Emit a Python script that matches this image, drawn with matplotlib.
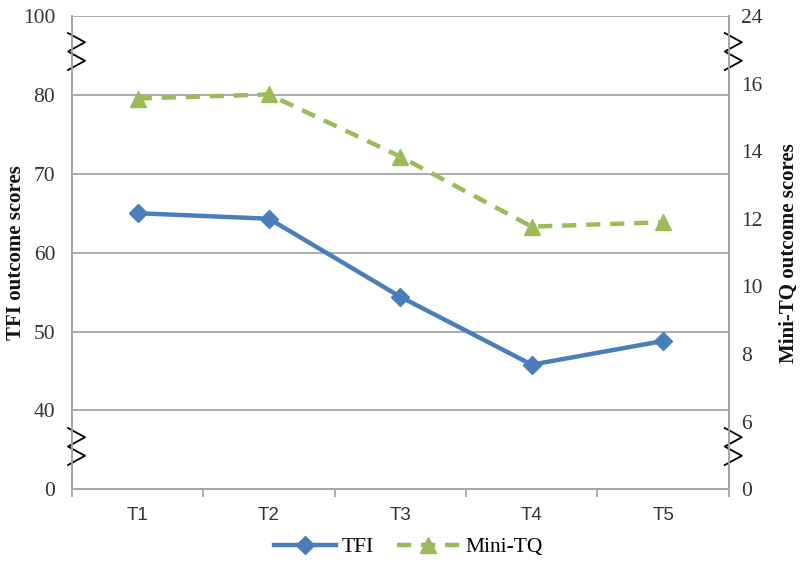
import matplotlib
matplotlib.use("Agg")
import matplotlib.pyplot as plt
from matplotlib.lines import Line2D

# ---- data ----
categories = ["T1", "T2", "T3", "T4", "T5"]
tfi = [65.0, 64.3, 54.4, 45.8, 48.8]
mini_tq = [15.56, 15.68, 13.84, 11.77, 11.90]

# broken-axis tick positions and their displayed labels
left_ticks = [30, 40, 50, 60, 70, 80, 90]
left_labels = ["0", "40", "50", "60", "70", "80", "100"]
right_ticks = [4, 6, 8, 10, 12, 14, 16, 18]
right_labels = ["0", "6", "8", "10", "12", "14", "16", "24"]

blue = "#4a7ebb"
green = "#9bbb59"
grid_c = "#a6a6a6"
txt_c = "#333333"

AX_L, AX_B, AX_W, AX_H = 0.09, 0.1446, 0.821, 0.8274

fig = plt.figure(figsize=(8, 5.72), dpi=100)
ax = fig.add_axes([AX_L, AX_B, AX_W, AX_H])
ax2 = ax.twinx()

x = list(range(len(categories)))

ax.set_xlim(-0.5, len(categories) - 0.5)
ax.set_ylim(left_ticks[0], left_ticks[-1])
ax2.set_ylim(right_ticks[0], right_ticks[-1])

ax.set_yticks(left_ticks)
ax.set_yticklabels(left_labels, fontfamily="Liberation Serif", fontsize=15.5, color=txt_c)
ax.yaxis.grid(True, color=grid_c, linewidth=1.3)
ax.set_axisbelow(True)
ax.tick_params(axis="y", length=0, pad=12)

ax2.set_yticks(right_ticks)
ax2.set_yticklabels(right_labels, fontfamily="Liberation Serif", fontsize=15.5, color=txt_c)
ax2.tick_params(axis="y", length=0, pad=9)

ax.set_xticks([i - 0.5 for i in range(len(categories) + 1)])
ax.set_xticklabels([])
ax.set_xticks(x, minor=True)
ax.set_xticklabels(categories, minor=True, fontfamily="Liberation Sans", fontsize=13.5, color=txt_c)
ax.tick_params(axis="x", which="major", length=6, color=grid_c, width=1.3, direction="out")
ax.tick_params(axis="x", which="minor", length=0, pad=13)

for a in (ax, ax2):
    a.spines["top"].set_visible(False)
    for s in ("left", "right", "bottom"):
        a.spines[s].set_color(grid_c)
        a.spines[s].set_linewidth(1.3)

ax.set_ylabel("TFI outcome scores", fontfamily="Liberation Serif", fontweight="bold", fontsize=15, color="#111111")
ax.yaxis.set_label_coords((26 - 72) / (AX_W * 800), 0.5)
ax2.set_ylabel("Mini-TQ outcome scores", fontfamily="Liberation Serif", fontweight="bold", fontsize=15, color="#111111")
ax2.yaxis.set_label_coords(1 + (779 - 729) / (AX_W * 800), 0.5)

l1, = ax.plot(x, tfi, color=blue, linewidth=3.2, marker="D", markersize=9, label="TFI", zorder=5, clip_on=False)
l2, = ax2.plot(x, mini_tq, color=green, linewidth=3.2, linestyle=(0, (3.2, 2.2)), marker="^", markersize=11,
               label="Mini-TQ", zorder=5, clip_on=False)

def zigzag(axis_x_frac, y_top_frac, y_bot_frac):
    px_w = 1.0 / (AX_W * 800)
    xs = [axis_x_frac + dx * px_w for dx in (-4, 13, -4, 13, -4)]
    n = 4
    ys = [y_top_frac + (y_bot_frac - y_top_frac) * i / n for i in range(n + 1)]
    ax.add_line(Line2D(xs, ys, transform=ax.transAxes, color="black", linewidth=1.3, clip_on=False, zorder=6))

h = AX_H * 572
def yfrac(py):
    return 1 - (py - 16) / h

for ax_x in (0.0, 1.0):
    zigzag(ax_x, yfrac(33), yfrac(70))
    zigzag(ax_x, yfrac(428), yfrac(465))

fig.legend(handles=[l1, l2], loc="center", bbox_to_anchor=(0.51, 0.043), ncol=2, frameon=False,
           prop={"family": "Liberation Serif", "size": 15.5}, handlelength=2.9, columnspacing=1.1,
           handletextpad=0.25)

fig.savefig("out.png", dpi=100)
